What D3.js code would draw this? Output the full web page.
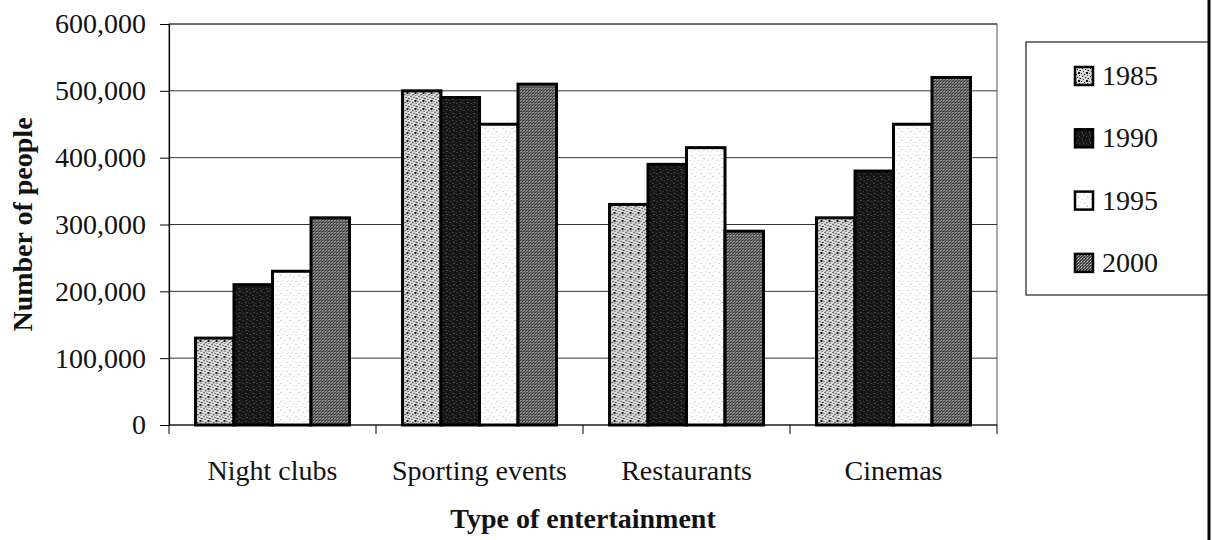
<!DOCTYPE html>
<html>
<head>
<meta charset="utf-8">
<script src="https://cdn.jsdelivr.net/npm/d3@7"></script>
<style>
  body { margin: 0; background: #fff; }
  text { font-family: "Liberation Serif", "Times New Roman", serif; fill: #111; }
</style>
</head>
<body>
<div id="chart"></div>
<script>
const width = 1212, height = 540;

// data
var categories = ["Night clubs", "Sporting events", "Restaurants", "Cinemas"];
var years = ["1985", "1990", "1995", "2000"];
var values1985 = [130000, 500000, 330000, 310000];
var values1990 = [210000, 490000, 390000, 380000];
var values1995 = [230000, 450000, 415000, 450000];
var values2000 = [310000, 510000, 290000, 520000];
var yTicks = [0, 100000, 200000, 300000, 400000, 500000, 600000];

var seriesValues = [values1985, values1990, values1995, values2000];

var margin = {left: 169, right: 215, top: 24, bottom: 115};

var svg = d3.select("#chart").append("svg")
    .attr("width", width)
    .attr("height", height);

// fill textures, a bit like the old b/w print
var defs = svg.append("defs");

function makePattern(id, size, bg, dots) {
    var p = defs.append("pattern")
        .attr("id", id)
        .attr("patternUnits", "userSpaceOnUse")
        .attr("width", size)
        .attr("height", size);
    p.append("rect").attr("width", size).attr("height", size).attr("fill", bg);
    dots.forEach(function (d) {
        p.append("rect")
            .attr("x", d[0]).attr("y", d[1])
            .attr("width", d[3] || 1).attr("height", d[3] || 1)
            .attr("fill", d[2]);
    });
}

makePattern("p1985", 8, "#d4d4d4", [
    [0, 0, "#111"], [3, 1, "#222"], [6, 2, "#000"], [1, 3, "#444"], [4, 4, "#111", 2],
    [7, 5, "#333"], [2, 6, "#000"], [5, 7, "#555"], [0, 5, "#fff"], [6, 0, "#fff"],
    [3, 3, "#fff"], [1, 7, "#888"], [5, 2, "#777"]
]);
makePattern("p1990", 7, "#161616", [
    [1, 1, "#666"], [4, 2, "#444"], [2, 4, "#777"], [5, 5, "#555"], [0, 6, "#333"]
]);
makePattern("p1995", 9, "#fdfdfd", [
    [1, 2, "#bbb"], [6, 1, "#ddd"], [4, 5, "#aaa"], [8, 7, "#ccc"], [2, 7, "#ddd"]
]);
makePattern("p2000", 3, "#4a4a4a", [
    [1, 1, "#d8d8d8"], [0, 0, "#2a2a2a"], [2, 0, "#888"], [0, 2, "#999"]
]);

var fills = ["url(#p1985)", "url(#p1990)", "url(#p1995)", "url(#p2000)"];

var x0 = d3.scaleBand()
    .domain(categories)
    .range([margin.left, width - margin.right])
    .paddingInner(0.256)
    .paddingOuter(0.128);

var x1 = d3.scaleBand()
    .domain(years)
    .range([0, x0.bandwidth()])
    .padding(0);

var y = d3.scaleLinear()
    .domain([0, 600000])
    .range([height - margin.bottom, margin.top]);

var plotRight = width - margin.right;

// plot frame + gridlines
svg.append("rect")
    .attr("x", margin.left)
    .attr("y", y(600000))
    .attr("width", plotRight - margin.left)
    .attr("height", y(0) - y(600000))
    .attr("fill", "none")
    .attr("stroke", "#555")
    .attr("stroke-width", 1);

svg.append("g")
    .attr("class", "grid")
    .selectAll("line")
    .data(yTicks.slice(1))
    .join("line")
    .attr("x1", margin.left)
    .attr("x2", plotRight)
    .attr("y1", d => y(d))
    .attr("y2", d => y(d))
    .attr("stroke", "#333")
    .attr("stroke-width", 1);

// bars
var rows = categories.map(function (c, i) {
    return {category: c, bars: years.map(function (yr, j) {
        return {year: yr, idx: j, value: seriesValues[j][i]};
    })};
});

svg.append("g")
    .attr("class", "bars")
    .selectAll("g")
    .data(rows)
    .join("g")
    .attr("transform", d => "translate(" + x0(d.category) + ",0)")
    .selectAll("rect")
    .data(d => d.bars)
    .join("rect")
    .attr("x", d => x1(d.year))
    .attr("y", d => y(d.value))
    .attr("width", x1.bandwidth())
    .attr("height", d => y(0) - y(d.value))
    .attr("fill", d => fills[d.idx])
    .attr("stroke", "#000")
    .attr("stroke-width", 3);

// y axis
var yAxis = svg.append("g")
    .attr("transform", "translate(" + margin.left + ",0)")
    .call(d3.axisLeft(y)
        .tickValues(yTicks)
        .tickSize(9)
        .tickPadding(14)
        .tickFormat(d3.format(",")));
yAxis.select(".domain").attr("stroke", "#000").attr("stroke-width", 1.2);
yAxis.selectAll(".tick line").attr("stroke", "#000");
yAxis.selectAll(".tick text")
    .style("font-family", "'Liberation Serif', serif")
    .style("font-size", "28px")
    .attr("fill", "#111");

// x axis: ticks between categories, like Excel
var step = x0.step();
var boundaries = d3.range(categories.length + 1).map(i => margin.left + i * step);

svg.append("line")
    .attr("x1", margin.left).attr("x2", plotRight)
    .attr("y1", y(0)).attr("y2", y(0))
    .attr("stroke", "#000").attr("stroke-width", 1.2);

svg.append("g")
    .selectAll("line")
    .data(boundaries)
    .join("line")
    .attr("x1", d => d).attr("x2", d => d)
    .attr("y1", y(0)).attr("y2", y(0) + 9)
    .attr("stroke", "#000");

svg.append("g")
    .selectAll("text")
    .data(categories)
    .join("text")
    .attr("x", d => x0(d) + x0.bandwidth() / 2)
    .attr("y", 480)
    .attr("text-anchor", "middle")
    .style("font-size", "28px")
    .text(d => d);

// axis titles
svg.append("text")
    .attr("x", (margin.left + plotRight) / 2)
    .attr("y", 528)
    .attr("text-anchor", "middle")
    .style("font-size", "28px")
    .style("font-weight", "bold")
    .text("Type of entertainment");

svg.append("text")
    .attr("transform", "translate(32," + ((y(0) + y(600000)) / 2) + ") rotate(-90)")
    .attr("text-anchor", "middle")
    .style("font-size", "28px")
    .style("font-weight", "bold")
    .text("Number of people");

// legend
var legend = svg.append("g").attr("class", "legend");

legend.append("rect")
    .attr("x", 1026).attr("y", 42)
    .attr("width", 1209 - 1026).attr("height", 295 - 42)
    .attr("fill", "#fff")
    .attr("stroke", "#222")
    .attr("stroke-width", 1.2);

var items = legend.selectAll("g.item")
    .data(years)
    .join("g")
    .attr("class", "item")
    .attr("transform", (d, i) => "translate(1074," + (76 + i * 62.3) + ")");

items.append("rect")
    .attr("x", 1).attr("y", -9)
    .attr("width", 18).attr("height", 18)
    .attr("fill", (d, i) => fills[i])
    .attr("stroke", "#000")
    .attr("stroke-width", 2.5);

items.append("text")
    .attr("x", 28)
    .attr("y", 9)
    .style("font-size", "28px")
    .text(d => d);

// outer frame edge at right
svg.append("line")
    .attr("x1", 1209).attr("x2", 1209)
    .attr("y1", 0).attr("y2", height)
    .attr("stroke", "#000")
    .attr("stroke-width", 3);
</script>
</body>
</html>
